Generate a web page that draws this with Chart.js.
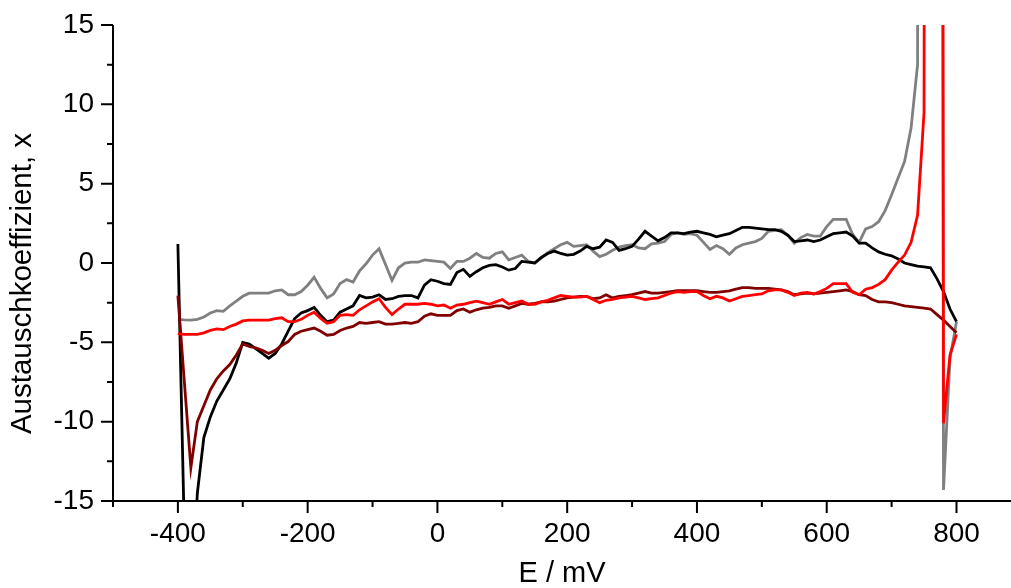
<!DOCTYPE html>
<html>
<head>
<meta charset="utf-8">
<script src="https://cdn.jsdelivr.net/npm/chart.js"></script>
<style>
  html, body { margin: 0; padding: 0; overflow: hidden; background: #fff; }
</style>
</head>
<body>
<canvas id="chart" width="1011" height="600"></canvas>
<script>
// potential axis, mV
let potentials = [
  -400, -390, -380, -370, -360, -350, -340, -330, -320, -310,
  -300, -290, -280, -270, -260, -250, -240, -230, -220, -210,
  -200, -190, -180, -170, -160, -150, -140, -130, -120, -110,
  -100, -90, -80, -70, -60, -50, -40, -30, -20, -10,
  0, 10, 20, 30, 40, 50, 60, 70, 80, 90,
  100, 110, 120, 130, 140, 150, 160, 170, 180, 190,
  200, 210, 220, 230, 240, 250, 260, 270, 280, 290,
  300, 310, 320, 330, 340, 350, 360, 370, 380, 390,
  400, 410, 420, 430, 440, 450, 460, 470, 480, 490,
  500, 510, 520, 530, 540, 550, 560, 570, 580, 590,
  600, 610, 620, 630, 640, 650, 660, 670, 680, 690,
  700, 710, 720, 730, 740, 750, 760, 770, 780, 790,
  800
];

let blackValues = [
  1.2, -17, -22, -14.5, -11.0, -9.7, -8.7, -8.0, -7.3, -6.3,
  -5.0, -5.1, -5.4, -5.7, -6.0, -5.7, -5.1, -4.3, -3.5, -3.15,
  -3.0, -2.8, -3.3, -3.7, -3.6, -3.1, -2.9, -2.7, -2.05, -2.2,
  -2.15, -2.0, -2.3, -2.25, -2.1, -2.05, -2.05, -2.2, -1.4, -1.05,
  -1.15, -1.3, -1.35, -0.6, -0.4, -0.85, -0.55, -0.3, -0.15, -0.1,
  -0.25, -0.45, -0.35, 0.1, 0.05, 0.0, 0.35, 0.6, 0.75, 0.6,
  0.5, 0.55, 0.75, 1.05, 0.9, 1.0, 1.45, 1.3, 0.8, 0.9,
  1.05, 1.5, 2.0, 1.7, 1.4, 1.6, 1.9, 1.9, 1.85, 1.95,
  2.0, 1.9, 1.8, 1.65, 1.75, 1.85, 2.05, 2.25, 2.25, 2.2,
  2.15, 2.1, 2.1, 2.0, 1.75, 1.35, 1.4, 1.45, 1.35, 1.45,
  1.65, 1.85, 1.9, 1.95, 1.7, 1.25, 1.25, 0.95, 0.7, 0.55,
  0.45, 0.25, 0.0, -0.1, -0.2, -0.25, -0.3, -1.0, -1.8, -2.9,
  -3.7
];

let grayValues = [
  -3.55, -3.58, -3.6, -3.55, -3.4, -3.15, -3.0, -3.05, -2.7, -2.4,
  -2.1, -1.9, -1.9, -1.9, -1.9, -1.75, -1.7, -2.0, -2.0, -1.8,
  -1.4, -0.9, -1.6, -2.2, -1.95, -1.3, -1.05, -1.2, -0.5, -0.05,
  0.5, 0.9, -0.1, -1.1, -0.3, 0.0, 0.05, 0.05, 0.2, 0.15,
  0.1, 0.05, -0.35, 0.1, 0.1, 0.3, 0.6, 0.35, 0.3, 0.6,
  0.7, 0.2, 0.35, 0.5, 0.1, 0.0, 0.3, 0.65, 0.9, 1.15,
  1.3, 1.05, 1.1, 1.15, 0.75, 0.4, 0.55, 0.8, 1.0, 1.1,
  1.15, 0.95, 0.9, 1.2, 1.25, 1.35, 1.8, 1.9, 1.8, 1.85,
  1.75, 1.3, 0.85, 1.1, 0.9, 0.55, 0.95, 1.15, 1.25, 1.35,
  1.55, 2.0, 2.05, 2.1, 1.75, 1.25, 1.6, 1.8, 1.7, 1.7,
  2.3, 2.75, 2.75, 2.75, 1.8, 1.3, 2.15, 2.3, 2.6, 3.3,
  4.3, 5.35, 6.4, 8.5, 12.5, 300, 300, 300, -14.3, -6.0,
  -3.7
];

let redValues = [
  -4.45, -4.5, -4.5, -4.5, -4.4, -4.25, -4.15, -4.2, -4.0, -3.85,
  -3.65, -3.6, -3.6, -3.6, -3.6, -3.5, -3.45, -3.7, -3.7, -3.55,
  -3.3, -3.1, -3.5, -3.8, -3.7, -3.3, -3.25, -3.3, -2.95, -2.7,
  -2.45, -2.25, -2.8, -3.25, -2.9, -2.6, -2.6, -2.6, -2.55, -2.6,
  -2.7, -2.65, -2.85, -2.65, -2.6, -2.5, -2.4, -2.5, -2.6, -2.45,
  -2.3, -2.6, -2.5, -2.4, -2.6, -2.6, -2.45, -2.35, -2.2, -2.05,
  -2.1, -2.15, -2.15, -2.1, -2.3, -2.5, -2.35, -2.3, -2.2, -2.15,
  -2.1, -2.2, -2.3, -2.25, -2.2, -2.05, -1.9, -1.8, -1.85, -1.8,
  -1.8, -2.05, -2.25, -2.1, -2.2, -2.4, -2.25, -2.1, -2.05, -2.0,
  -1.95, -1.75, -1.7, -1.7, -1.85, -2.05, -1.9, -1.85, -1.95, -1.8,
  -1.6, -1.3, -1.3, -1.3, -1.85, -2.0, -1.65, -1.55, -1.35, -1.05,
  -0.45, 0.05, 0.5, 1.3, 3.0, 9.5, 300, 300, -10.1, -5.8,
  -4.5
];

let darkRedValues = [
  -2.05, -7.5, -12.9, -10.0, -9.0, -8.0, -7.3, -6.8, -6.4, -5.8,
  -5.1, -5.25, -5.35, -5.5, -5.7, -5.5, -5.2, -4.95, -4.5, -4.3,
  -4.2, -4.1, -4.3, -4.55, -4.5, -4.25, -4.1, -4.0, -3.75, -3.8,
  -3.75, -3.7, -3.85, -3.85, -3.8, -3.75, -3.8, -3.7, -3.35, -3.2,
  -3.3, -3.3, -3.3, -3.0, -2.9, -3.1, -2.95, -2.85, -2.8, -2.7,
  -2.7, -2.85, -2.7, -2.55, -2.6, -2.55, -2.45, -2.45, -2.4, -2.3,
  -2.2, -2.15, -2.1, -2.1, -2.25, -2.2, -2.0, -2.2, -2.1, -2.05,
  -2.0, -1.9, -1.8, -1.9, -1.9, -1.85, -1.8, -1.75, -1.75, -1.75,
  -1.75, -1.8, -1.85, -1.85, -1.8, -1.75, -1.65, -1.55, -1.55, -1.6,
  -1.6, -1.6, -1.65, -1.7, -1.8, -2.0, -1.95, -1.9, -1.95, -1.9,
  -1.85, -1.8, -1.75, -1.7, -1.8, -2.0, -2.05, -2.3, -2.45, -2.45,
  -2.5, -2.6, -2.7, -2.75, -2.8, -2.85, -2.9, -3.25, -3.6, -4.0,
  -4.4
];

let xMajorTicks = [-400, -200, 0, 200, 400, 600, 800];
let xMinorTicks = [-500, -300, -100, 100, 300, 500, 700];
let yMajorTicks = [-15, -10, -5, 0, 5, 10, 15];
let yMinorTicks = [-12.5, -7.5, -2.5, 2.5, 7.5, 12.5];

function points(values) {
  return potentials.map((e, i) => ({ x: e, y: values[i] }));
}

// axis lines and outward tick marks (long major, short minor)
const axisTicks = {
  id: 'axisTicks',
  afterDraw(chart) {
    const ctx = chart.ctx;
    const a = chart.chartArea;
    const x = chart.scales.x, y = chart.scales.y;
    ctx.save();
    ctx.strokeStyle = '#000';
    ctx.lineWidth = 2;
    ctx.beginPath();
    ctx.moveTo(a.left, a.top);
    ctx.lineTo(a.left, a.bottom);
    ctx.lineTo(a.right, a.bottom);
    xMajorTicks.forEach(v => { let p = x.getPixelForValue(v); ctx.moveTo(p, a.bottom); ctx.lineTo(p, a.bottom + 12); });
    xMinorTicks.forEach(v => { let p = x.getPixelForValue(v); ctx.moveTo(p, a.bottom); ctx.lineTo(p, a.bottom + 6); });
    yMajorTicks.forEach(v => { let p = y.getPixelForValue(v); ctx.moveTo(a.left, p); ctx.lineTo(a.left - 12, p); });
    yMinorTicks.forEach(v => { let p = y.getPixelForValue(v); ctx.moveTo(a.left, p); ctx.lineTo(a.left - 6, p); });
    ctx.stroke();
    ctx.restore();
  }
};

const fontFamily = '"Liberation Sans", Arial, sans-serif';

let ctx = document.getElementById('chart').getContext('2d');
let myChart = new Chart(ctx, {
  type: 'scatter',
  data: {
    datasets: [
      { data: points(redValues), borderColor: '#ff0000' },
      { data: points(darkRedValues), borderColor: '#800000' },
      { data: points(blackValues), borderColor: '#000000' },
      { data: points(grayValues), borderColor: '#808080' }
    ]
  },
  options: {
    responsive: false,
    devicePixelRatio: 1,
    animation: false,
    showLine: true,
    layout: { padding: { top: 25, right: 0, left: 0, bottom: 0 } },
    elements: {
      point: { radius: 0, hoverRadius: 0 },
      line: { borderWidth: 2.8, tension: 0, fill: false }
    },
    plugins: {
      legend: { display: false },
      tooltip: { enabled: false }
    },
    scales: {
      x: {
        type: 'linear',
        min: -500,
        max: 884,
        afterBuildTicks: s => { s.ticks = xMajorTicks.map(v => ({ value: v })); },
        afterFit: s => { s.height = 99; },
        grid: { display: false, drawTicks: true, tickLength: 12 },
        border: { display: false },
        ticks: { color: '#000', padding: 4, maxRotation: 0, autoSkip: false,
                 font: { family: fontFamily, size: 28 } },
        title: { display: true, text: 'E / mV', color: '#000', padding: { top: 0, bottom: 9 },
                 font: { family: fontFamily, size: 29 } }
      },
      y: {
        type: 'linear',
        min: -15,
        max: 15,
        afterBuildTicks: s => { s.ticks = yMajorTicks.map(v => ({ value: v })); },
        afterFit: s => { s.width = 113; },
        grid: { display: false, drawTicks: true, tickLength: 12 },
        border: { display: false },
        ticks: { color: '#000', padding: 7, autoSkip: false,
                 font: { family: fontFamily, size: 28 } },
        title: { display: true, text: 'Austauschkoeffizient, x     ', color: '#000', padding: { top: 5, bottom: 0 },
                 font: { family: fontFamily, size: 29.5 } }
      }
    }
  },
  plugins: [axisTicks]
});
</script>
</body>
</html>
